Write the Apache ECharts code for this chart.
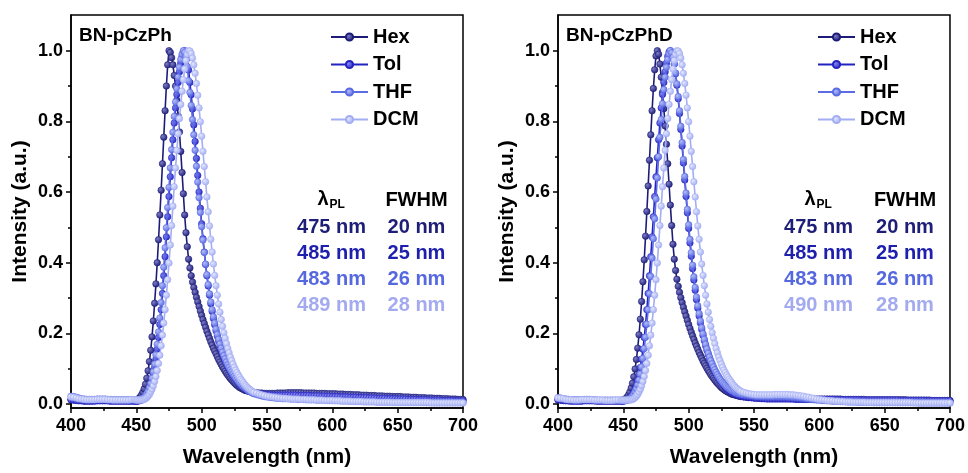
<!DOCTYPE html>
<html><head><meta charset="utf-8">
<script src="https://cdn.jsdelivr.net/npm/echarts@6/dist/echarts.min.js"></script>
<style>html,body{margin:0;padding:0;background:#fff}#c{width:968px;height:473px}</style>
</head><body><div id="c"></div>
<script>
const solvents = ['Hex', 'Tol', 'THF', 'DCM'];
const panelTitles = ['BN-pCzPh', 'BN-pCzPhD'];
const lamLeft = ['475 nm', '485 nm', '483 nm', '489 nm'];
const fwhmLeft = ['20 nm', '25 nm', '26 nm', '28 nm'];
const lamRight = ['475 nm', '485 nm', '483 nm', '490 nm'];
const fwhmRight = ['20 nm', '25 nm', '26 nm', '28 nm'];
const yTicks = [0, 0.2, 0.4, 0.6, 0.8, 1.0];
const yMinorTicks = [0.1, 0.3, 0.5, 0.7, 0.9];

// wavelength grid (nm)
const wl = [400,402,404,406,408,410,412,414,416,418,420,422,424,426,428,430,432,434,436,438,440,442,444,446,448,
449,450,451,452,453,454,455,456,457,458,459,460,461,462,463,464,465,466,467,468,469,470,471,472,473,474,475,476,477,478,
479,480,481,482,483,484,485,486,487,488,489,490,491,492,493,494,495,496,497,498,499,500,501,502,503,504,505,506,507,508,
509,510,511,512,513,514,515,516,517,518,519,520,521,522,523,524,525,526,527,528,529,530,531,532,533,534,535,536,537,538,539,540,
542,544,546,548,550,552,554,556,558,560,562,564,566,568,570,572,574,576,578,580,582,584,586,588,590,592,594,596,598,600,
602,604,606,608,610,612,614,616,618,620,622,624,626,628,630,632,634,636,638,640,642,644,646,648,650,
652,654,656,658,660,662,664,666,668,670,672,674,676,678,680,682,684,686,688,690,692,694,696,698,700];

// BN-pCzPh
const hexL = [0.012,0.011,0.011,0.01,0.01,0.009,0.009,0.009,0.009,0.01,0.01,0.01,0.01,0.01,0.01,0.009,0.009,0.009,0.009,0.009,0.009,0.009,0.009,0.009,0.01,
0.01,0.011,0.013,0.016,0.02,0.026,0.033,0.043,0.056,0.073,
0.094,0.12,0.152,0.19,0.235,0.285,0.34,0.4,0.465,0.535,
0.605,0.68,0.755,0.83,0.9,0.96,1.0,0.995,0.98,0.96,
0.93,0.9,0.86,0.815,0.77,0.715,0.655,0.595,0.535,0.485,
0.445,0.41,0.385,0.363,0.345,0.33,0.316,0.302,0.289,0.276,
0.263,0.251,0.239,0.228,0.217,0.206,0.196,0.186,0.176,0.167,
0.158,0.15,0.142,0.134,0.126,0.119,0.112,0.105,0.099,0.093,
0.087,0.082,0.077,0.072,0.068,0.064,0.06,0.056,0.053,0.05,
0.047,0.045,0.043,0.041,0.039,0.038,0.037,0.036,0.035,0.034,0.033,0.033,
0.032,0.031,0.031,0.03,0.03,0.03,0.03,0.03,0.031,0.031,
0.031,0.031,0.032,0.032,0.032,0.032,0.032,0.032,0.031,0.031,0.031,0.031,0.031,0.03,0.03,0.03,0.03,0.029,0.029,0.029,
0.029,0.028,0.028,0.028,0.027,0.027,0.027,0.026,0.026,0.026,0.025,0.025,0.025,0.024,0.024,0.024,0.023,0.023,0.023,0.022,0.022,0.022,0.021,0.021,0.021,
0.021,0.02,0.02,0.02,0.019,0.019,0.019,0.018,0.018,0.018,0.017,0.017,0.017,0.016,0.016,0.016,0.015,0.015,0.015,0.014,0.014,0.014,0.013,0.013,0.013];

const tolL = [0.012,0.011,0.01,0.009,0.009,0.008,0.008,0.008,0.008,0.008,0.009,0.009,0.009,0.009,0.009,0.008,0.008,0.008,0.008,0.008,0.008,0.008,0.008,0.008,0.008,
0.008,0.008,0.008,0.009,0.01,0.011,0.013,0.016,0.02,0.025,
0.032,0.041,0.052,0.066,0.083,0.103,0.127,0.155,0.188,0.225,
0.267,0.313,0.363,0.417,0.473,0.53,0.587,0.643,0.697,0.748,
0.795,0.838,0.876,0.91,0.94,0.965,0.984,0.996,1.0,0.993,
0.978,0.945,0.91,0.875,0.835,0.79,0.743,0.695,0.647,0.6,
0.554,0.51,0.468,0.43,0.395,0.363,0.334,0.308,0.284,0.262,
0.242,0.224,0.207,0.192,0.178,0.165,0.153,0.142,0.132,0.123,
0.115,0.107,0.1,0.093,0.087,0.081,0.076,0.071,0.066,0.062,
0.058,0.054,0.051,0.048,0.045,0.042,0.04,0.038,0.036,0.034,0.032,0.031,
0.03,0.029,0.028,0.027,0.026,0.026,0.025,0.025,0.025,0.025,
0.025,0.025,0.025,0.025,0.025,0.025,0.024,0.024,0.024,0.024,0.024,0.023,0.023,0.023,0.023,0.022,0.022,0.022,0.022,0.021,
0.021,0.021,0.02,0.02,0.02,0.02,0.019,0.019,0.019,0.018,0.018,0.018,0.018,0.017,0.017,0.017,0.016,0.016,0.016,0.016,0.015,0.015,0.015,0.015,0.014,
0.014,0.014,0.014,0.013,0.013,0.013,0.013,0.012,0.012,0.012,0.012,0.011,0.011,0.011,0.011,0.011,0.01,0.01,0.01,0.01,0.01,0.009,0.009,0.009,0.009];

const thfL = [0.022,0.021,0.019,0.017,0.015,0.014,0.013,0.013,0.013,0.013,0.014,0.014,0.014,0.014,0.013,0.013,0.012,0.012,0.012,0.012,0.012,0.012,0.012,0.012,0.012,
0.012,0.012,0.012,0.012,0.013,0.014,0.016,0.019,0.023,0.029,
0.036,0.046,0.058,0.073,0.091,0.113,0.139,0.169,0.204,0.243,
0.287,0.335,0.387,0.442,0.499,0.556,0.613,0.668,0.72,0.769,
0.814,0.855,0.892,0.925,0.953,0.975,0.99,1.0,0.995,0.983,
0.955,0.915,0.882,0.845,0.805,0.762,0.718,0.673,0.628,0.584,
0.542,0.502,0.464,0.429,0.396,0.366,0.338,0.312,0.289,0.267,
0.247,0.229,0.212,0.197,0.183,0.17,0.158,0.147,0.137,0.128,
0.119,0.111,0.104,0.097,0.091,0.085,0.079,0.074,0.069,0.064,
0.06,0.056,0.052,0.049,0.046,0.043,0.04,0.037,0.035,0.033,0.031,0.029,
0.027,0.025,0.023,0.021,0.02,0.019,0.018,0.017,0.016,0.016,
0.015,0.015,0.015,0.014,0.014,0.014,0.013,0.013,0.013,0.012,0.012,0.012,0.012,0.011,0.011,0.011,0.011,0.01,0.01,0.01,
0.01,0.01,0.009,0.009,0.009,0.009,0.008,0.008,0.008,0.008,0.008,0.007,0.007,0.007,0.007,0.007,0.006,0.006,0.006,0.006,0.006,0.006,0.006,0.005,0.005,
0.005,0.005,0.005,0.005,0.005,0.005,0.005,0.005,0.005,0.005,0.004,0.004,0.004,0.004,0.004,0.004,0.004,0.004,0.004,0.004,0.004,0.004,0.004,0.004,0.004];

const dcmL = [0.02,0.019,0.017,0.015,0.014,0.013,0.012,0.012,0.012,0.012,0.013,0.013,0.013,0.013,0.012,0.012,0.011,0.011,0.011,0.011,0.011,0.011,0.011,0.012,0.012,
0.012,0.011,0.011,0.011,0.011,0.011,0.012,0.013,0.015,0.018,
0.022,0.027,0.034,0.042,0.052,0.064,0.078,0.095,0.115,0.138,
0.165,0.195,0.229,0.267,0.308,0.352,0.399,0.45,0.505,0.56,
0.615,0.668,0.718,0.765,0.808,0.848,0.885,0.918,0.948,0.972,
0.99,1.0,0.999,0.992,0.979,0.96,0.936,0.907,0.874,0.838,
0.799,0.758,0.715,0.672,0.629,0.586,0.544,0.504,0.466,0.43,
0.396,0.364,0.335,0.308,0.283,0.26,0.239,0.22,0.202,0.186,
0.171,0.157,0.145,0.133,0.123,0.113,0.104,0.096,0.089,0.082,
0.076,0.07,0.065,0.06,0.055,0.051,0.047,0.044,0.041,0.038,0.035,0.033,
0.031,0.028,0.026,0.024,0.022,0.021,0.02,0.019,0.018,0.017,
0.016,0.016,0.015,0.015,0.014,0.014,0.014,0.013,0.013,0.013,0.012,0.012,0.012,0.011,0.011,0.011,0.01,0.01,0.01,0.01,
0.009,0.009,0.009,0.008,0.008,0.008,0.008,0.007,0.007,0.007,0.007,0.006,0.006,0.006,0.006,0.006,0.005,0.005,0.005,0.005,0.005,0.005,0.004,0.004,0.004,
0.004,0.004,0.004,0.004,0.004,0.004,0.004,0.004,0.004,0.004,0.004,0.004,0.003,0.003,0.003,0.003,0.003,0.003,0.003,0.003,0.003,0.003,0.003,0.003,0.003];

// BN-pCzPhD
const hexR = [0.012,0.011,0.01,0.01,0.009,0.009,0.009,0.009,0.009,0.009,0.01,0.01,0.01,0.01,0.009,0.009,0.009,0.009,0.009,0.009,0.009,0.009,0.009,0.009,0.01,
0.01,0.011,0.013,0.016,0.02,0.026,0.034,0.045,0.059,0.077,
0.099,0.126,0.158,0.196,0.24,0.29,0.346,0.408,0.475,0.545,
0.617,0.69,0.762,0.83,0.893,0.946,0.985,1.0,0.99,0.962,
0.925,0.882,0.836,0.787,0.735,0.68,0.622,0.563,0.505,0.452,
0.41,0.378,0.353,0.333,0.316,0.301,0.287,0.274,0.261,0.249,
0.237,0.225,0.214,0.203,0.193,0.183,0.173,0.164,0.155,0.146,
0.138,0.13,0.122,0.115,0.108,0.101,0.095,0.089,0.083,0.078,
0.073,0.068,0.063,0.059,0.055,0.051,0.047,0.044,0.041,0.038,
0.036,0.034,0.032,0.03,0.028,0.027,0.026,0.025,0.024,0.023,0.022,0.021,
0.02,0.019,0.018,0.018,0.017,0.017,0.016,0.016,0.016,0.016,
0.016,0.016,0.016,0.016,0.016,0.016,0.016,0.016,0.015,0.015,0.015,0.015,0.015,0.015,0.015,0.015,0.014,0.014,0.014,0.014,
0.014,0.014,0.014,0.014,0.014,0.014,0.014,0.014,0.013,0.013,0.013,0.013,0.013,0.013,0.013,0.013,0.013,0.012,0.012,0.012,0.012,0.012,0.012,0.012,0.012,
0.012,0.012,0.012,0.012,0.012,0.012,0.012,0.012,0.011,0.011,0.011,0.011,0.011,0.011,0.011,0.011,0.011,0.01,0.01,0.01,0.01,0.01,0.01,0.01,0.01];

const tolR = [0.012,0.011,0.01,0.009,0.009,0.008,0.008,0.008,0.008,0.008,0.009,0.009,0.009,0.009,0.009,0.008,0.008,0.008,0.008,0.008,0.008,0.008,0.008,0.008,0.008,
0.008,0.008,0.009,0.01,0.011,0.013,0.016,0.02,0.025,0.032,
0.041,0.052,0.066,0.083,0.103,0.127,0.155,0.188,0.225,0.267,
0.313,0.363,0.417,0.473,0.53,0.587,0.643,0.697,0.748,0.795,
0.838,0.876,0.91,0.94,0.965,0.984,0.996,1.0,0.995,0.982,
0.962,0.935,0.902,0.864,0.822,0.777,0.73,0.682,0.634,0.587,
0.541,0.497,0.456,0.418,0.383,0.351,0.322,0.295,0.271,0.249,
0.229,0.211,0.194,0.179,0.165,0.152,0.14,0.129,0.119,0.11,
0.101,0.093,0.086,0.079,0.073,0.067,0.062,0.057,0.053,0.049,
0.045,0.042,0.039,0.036,0.034,0.032,0.03,0.028,0.026,0.025,0.024,0.023,
0.021,0.02,0.019,0.018,0.017,0.016,0.016,0.015,0.015,0.014,
0.014,0.014,0.014,0.014,0.014,0.014,0.014,0.014,0.014,0.014,0.013,0.013,0.013,0.013,0.013,0.013,0.013,0.013,0.013,0.013,
0.013,0.013,0.013,0.013,0.013,0.012,0.012,0.012,0.012,0.012,0.012,0.012,0.012,0.012,0.012,0.011,0.011,0.011,0.011,0.011,0.011,0.011,0.011,0.011,0.011,
0.011,0.011,0.011,0.011,0.011,0.01,0.01,0.01,0.01,0.01,0.01,0.01,0.01,0.01,0.01,0.009,0.009,0.009,0.009,0.009,0.009,0.009,0.009,0.009,0.009];

const thfR = [0.018,0.017,0.015,0.014,0.013,0.012,0.012,0.012,0.012,0.012,0.013,0.013,0.013,0.012,0.012,0.011,0.011,0.011,0.011,0.011,0.011,0.011,0.011,0.011,0.011,
0.01,0.01,0.01,0.011,0.012,0.013,0.015,0.018,0.022,0.027,
0.034,0.043,0.054,0.068,0.085,0.105,0.129,0.157,0.189,0.226,
0.267,0.312,0.361,0.413,0.468,0.524,0.58,0.64,0.7,0.755,
0.805,0.85,0.89,0.925,0.953,0.975,0.991,1.0,0.994,0.981,
0.962,0.937,0.906,0.87,0.83,0.786,0.74,0.692,0.644,0.597,
0.551,0.507,0.466,0.428,0.393,0.36,0.33,0.303,0.278,0.256,
0.235,0.216,0.199,0.183,0.169,0.156,0.144,0.133,0.123,0.114,
0.105,0.097,0.09,0.083,0.077,0.071,0.066,0.061,0.057,0.053,
0.049,0.046,0.043,0.04,0.038,0.036,0.034,0.032,0.031,0.03,0.029,0.028,
0.027,0.026,0.025,0.024,0.023,0.022,0.022,0.021,0.021,0.021,
0.021,0.021,0.021,0.021,0.021,0.021,0.021,0.02,0.02,0.019,0.019,0.018,0.017,0.016,0.015,0.014,0.013,0.012,0.011,0.011,
0.01,0.01,0.009,0.009,0.008,0.008,0.008,0.007,0.007,0.007,0.006,0.006,0.006,0.006,0.005,0.005,0.005,0.005,0.005,0.005,0.004,0.004,0.004,0.004,0.004,
0.004,0.004,0.004,0.004,0.004,0.004,0.004,0.004,0.004,0.004,0.004,0.004,0.003,0.003,0.003,0.003,0.003,0.003,0.003,0.003,0.003,0.003,0.003,0.003,0.003];

const dcmR = [0.017,0.016,0.015,0.013,0.012,0.012,0.011,0.011,0.011,0.012,0.012,0.012,0.012,0.012,0.011,0.011,0.011,0.011,0.01,0.01,0.01,0.01,0.011,0.011,0.011,
0.011,0.011,0.011,0.011,0.011,0.011,0.011,0.012,0.013,0.015,
0.018,0.022,0.027,0.034,0.042,0.052,0.064,0.078,0.095,0.115,
0.138,0.165,0.195,0.229,0.267,0.308,0.352,0.399,0.45,0.505,
0.56,0.615,0.668,0.718,0.765,0.808,0.848,0.885,0.918,0.948,
0.972,0.99,1.0,0.999,0.992,0.979,0.96,0.936,0.907,0.874,
0.838,0.799,0.758,0.715,0.672,0.629,0.586,0.544,0.504,0.466,
0.43,0.396,0.364,0.335,0.308,0.283,0.26,0.239,0.22,0.202,
0.186,0.171,0.157,0.145,0.133,0.123,0.113,0.104,0.096,0.089,
0.082,0.076,0.07,0.065,0.06,0.055,0.051,0.047,0.044,0.041,0.038,0.036,
0.033,0.031,0.029,0.028,0.027,0.026,0.026,0.026,0.026,0.026,
0.026,0.026,0.027,0.027,0.027,0.027,0.027,0.027,0.026,0.026,0.025,0.024,0.023,0.022,0.02,0.019,0.017,0.016,0.014,0.013,
0.012,0.011,0.01,0.009,0.009,0.008,0.008,0.007,0.007,0.006,0.006,0.006,0.005,0.005,0.005,0.005,0.005,0.004,0.004,0.004,0.004,0.004,0.004,0.004,0.004,
0.004,0.004,0.004,0.004,0.004,0.004,0.004,0.004,0.004,0.004,0.003,0.003,0.003,0.003,0.003,0.003,0.003,0.003,0.003,0.003,0.003,0.003,0.003,0.003,0.003];

const FF = '"Liberation Sans", Arial, Helvetica, sans-serif';
const lineColors = ['#1c1c78', '#2323c2', '#5a6be4', '#a2adf3'];
const ballHi = ['#7d7dc4', '#8a8af0', '#b4bdf7', '#e3e7fd'];
const textColors = ['#1e1e78', '#1f1fae', '#5668df', '#a3aaef'];

const leftSeries = [hexL, tolL, thfL, dcmL];
const rightSeries = [hexR, tolR, thfR, dcmR];

const chart = echarts.init(document.getElementById('c'), null, {renderer: 'canvas'});

const grids = [
  {left: 71, top: 15, width: 392, height: 395},
  {left: 558, top: 15, width: 392, height: 395}
];
const yMin = -0.0113, yMax = 1.101;

function xAxisFor(gi) {
  return {
    type: 'value', gridIndex: gi, min: 400, max: 700, interval: 50,
    name: 'Wavelength (nm)', nameLocation: 'middle', nameGap: 39,
    nameTextStyle: {fontFamily: FF, fontSize: 21, fontWeight: 'bold', color: '#000'},
    axisLine: {onZero: false, lineStyle: {color: '#000', width: 1.5}},
    axisTick: {show: true, length: 5, lineStyle: {color: '#000', width: 1.5}},
    minorTick: {show: true, splitNumber: 2, length: 3, lineStyle: {color: '#000', width: 1.5}},
    axisLabel: {fontFamily: FF, fontSize: 18, fontWeight: 'bold', color: '#000', margin: 9},
    splitLine: {show: false}
  };
}
function yAxisFor(gi) {
  return {
    type: 'value', gridIndex: gi, min: yMin, max: yMax, position: 'left',
    name: 'Intensity (a.u.)', nameLocation: 'middle', nameGap: 40,
    nameTextStyle: {fontFamily: FF, fontSize: 21, fontWeight: 'bold', color: '#000'},
    axisLine: {show: true, onZero: false, lineStyle: {color: '#000', width: 1.5}},
    axisTick: {show: true, length: 5, customValues: yTicks, lineStyle: {color: '#000', width: 1.5}},
    axisLabel: {customValues: yTicks, formatter: v => v.toFixed(1), fontFamily: FF, fontSize: 18, fontWeight: 'bold', color: '#000', margin: 8},
    splitLine: {show: false}
  };
}
function yMinorFor(gi) {
  return {
    type: 'value', gridIndex: gi, min: yMin, max: yMax, position: 'left',
    axisLine: {show: false, onZero: false},
    axisTick: {show: true, length: 3, customValues: yMinorTicks, lineStyle: {color: '#000', width: 1.5}},
    axisLabel: {show: false},
    splitLine: {show: false}
  };
}

function makeSeries(name, vals, k, xi, yi) {
  return {
    type: 'line', name: name, xAxisIndex: xi, yAxisIndex: yi,
    data: wl.map((w, i) => [w, vals[i]]),
    symbol: 'circle', symbolSize: 6.5,
    lineStyle: {color: lineColors[k], width: 1.6},
    itemStyle: {
      color: {type: 'radial', x: 0.35, y: 0.35, r: 0.7,
        colorStops: [{offset: 0, color: ballHi[k]}, {offset: 1, color: lineColors[k]}]},
      borderColor: lineColors[k], borderWidth: 0.6
    },
    emphasis: {disabled: true},
    animation: false, z: 2 + k
  };
}

const series = [];
solvents.forEach((s, k) => series.push(makeSeries(s, leftSeries[k], k, 0, 0)));
solvents.forEach((s, k) => series.push(makeSeries(s, rightSeries[k], k, 1, 2)));

function legendFor(left) {
  return {
    data: solvents, orient: 'vertical', left: left, top: 27, padding: 0,
    itemWidth: 37, itemHeight: 9, itemGap: 7.5, selectedMode: false,
    textStyle: {fontFamily: FF, fontSize: 20, fontWeight: 'bold', color: '#000', lineHeight: 19}
  };
}

const graphic = [];
function txt(x, y, text, size, color, align) {
  graphic.push({type: 'text', x: x, y: y, silent: true, z: 100,
    style: {text: text, font: 'bold ' + size + 'px ' + FF, fill: color, align: align, verticalAlign: 'middle'}});
}
// panel titles
txt(79, 36, panelTitles[0], 19, '#000', 'left');
txt(566, 36, panelTitles[1], 19, '#000', 'left');
// annotation headers
function annot(lamX, fwX, lamVals, fwVals) {
  txt(lamX - 3, 199, 'λ', 20, '#000', 'right');
  txt(lamX - 2, 205, 'PL', 12, '#000', 'left');
  txt(fwX, 200, 'FWHM', 20, '#000', 'center');
  const rows = [227, 253, 279, 305];
  lamVals.forEach((v, i) => {
    txt(lamX, rows[i], v, 20, textColors[i], 'center');
    txt(fwX, rows[i], fwVals[i], 20, textColors[i], 'center');
  });
}
annot(331.5, 416.5, lamLeft, fwhmLeft);
annot(818.5, 905, lamRight, fwhmRight);

const allArr = leftSeries.concat(rightSeries);
if (allArr.some(a => a.length !== wl.length)) {
  console.error('length mismatch', allArr.map(a => a.length), wl.length);
  txt(480, 460, 'LEN ' + allArr.map(a => a.length).join(',') + ' / ' + wl.length, 12, 'red', 'center');
}

chart.setOption({
  backgroundColor: '#fff',
  animation: false,
  grid: grids.map(g => Object.assign({show: true, borderColor: '#000', borderWidth: 1.5, backgroundColor: 'transparent', containLabel: false}, g)),
  xAxis: [xAxisFor(0), xAxisFor(1)],
  yAxis: [yAxisFor(0), yMinorFor(0), yAxisFor(1), yMinorFor(1)],
  legend: [legendFor(330), legendFor(817)],
  graphic: graphic,
  series: series
});
</script>
</body></html>
